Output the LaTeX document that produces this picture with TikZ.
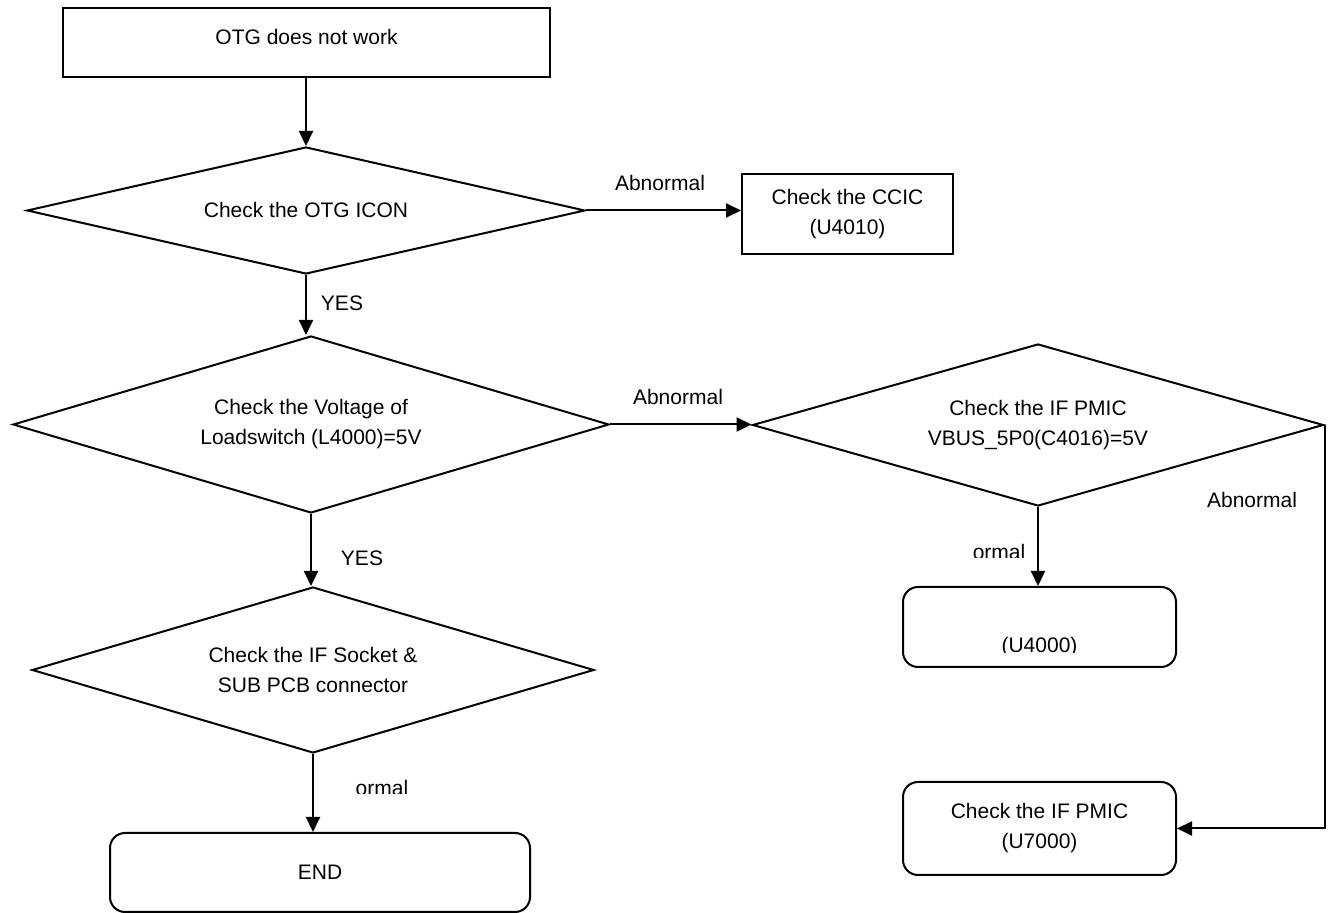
\documentclass[tikz,border=0pt]{standalone}
\usepackage{fontspec}
\setmainfont{Liberation Sans}
\usetikzlibrary{shapes.geometric,arrows.meta}
\begin{document}
\begin{tikzpicture}[x=0.5pt,y=-0.5pt,
  every node/.style={font=\fontsize{10.5pt}{15pt}\selectfont},
  line/.style={draw=black,line width=1pt},
  arr/.style={line,-{Triangle[length=7.5pt,width=7pt]}},
  sqbox/.style={draw=black,line width=1pt,rectangle,inner sep=0pt,align=center},
  rbox/.style={draw=black,line width=1pt,rectangle,rounded corners=7.5pt,inner sep=0pt,align=center},
  dia/.style={draw=black,line width=1pt,diamond,aspect=3,inner sep=0pt,align=center},
  lbl/.style={inner sep=0pt}]
\useasboundingbox (0,0) rectangle (1330,913);
% nodes
\node[sqbox,minimum width=243.5pt,minimum height=34.5pt] (start) at (306.5,42.5) {};
\node[lbl] (starttxt) at (306.5,37) {OTG does not work};
\node[dia,minimum width=279pt,minimum height=63.5pt] (d1) at (306,210.5) {Check the OTG ICON};
\node[sqbox,minimum width=105.5pt,minimum height=40pt] (ccic) at (847.5,214) {Check the CCIC\\(U4010)};
\node[dia,minimum width=298pt,minimum height=88.5pt] (d2) at (311,424.5) {Check the Voltage of\\Loadswitch (L4000)=5V};
\node[dia,minimum width=285.5pt,minimum height=81pt] (d3) at (1038,425) {Check the IF PMIC\\VBUS\_5P0(C4016)=5V};
\node[rbox,minimum width=136.5pt,minimum height=40pt] (u4000) at (1039.5,627) {};
\begin{scope}
  \clip (900,600) rectangle (1180,653);
  \node[lbl] (u4000txt) at (1039.5,647) {(U4000)};
\end{scope}
\node[dia,minimum width=281pt,minimum height=83pt] (d4) at (313,670) {Check the IF Socket \&\\SUB PCB connector};
\node[rbox,minimum width=210pt,minimum height=39.5pt] (end) at (320,872.5) {END};
\node[rbox,minimum width=136.5pt,minimum height=46.5pt] (u7000) at (1039.5,828.5) {Check the IF PMIC\\(U7000)};
% labels
\node[lbl] (l1) at (660,183) {Abnormal};
\node[lbl] (l2) at (342,303) {YES};
\node[lbl] (l3) at (678,397) {Abnormal};
\node[lbl] (l4) at (362,558) {YES};
\node[lbl] (l5) at (1252,500) {Abnormal};
\begin{scope}
  \clip (950,530) rectangle (1030,558);
  \node[lbl] (l6) at (999,552) {ormal};
\end{scope}
\begin{scope}
  \clip (330,765) rectangle (430,794);
  \node[lbl] (l7) at (382,788) {ormal};
\end{scope}
% connectors
\draw[arr] (start.south -| d1.north) -- (d1.north);
\draw[arr] (d1.east) -- (d1.east -| ccic.west);
\draw[arr] (d1.south) -- (d1.south |- d2.north);
\draw[arr] (d2.east) -- (d2.east -| d3.west);
\draw[arr] (d3.south) -- (d3.south |- u4000.north);
\draw[arr] (d2.south) -- (d2.south |- d4.north);
\draw[arr] (d4.south) -- (d4.south |- end.north);
\coordinate (corner) at (d3.east |- u7000.east);
\draw[arr] (d3.east) -- (corner) -- (u7000.east);
\end{tikzpicture}
\end{document}
